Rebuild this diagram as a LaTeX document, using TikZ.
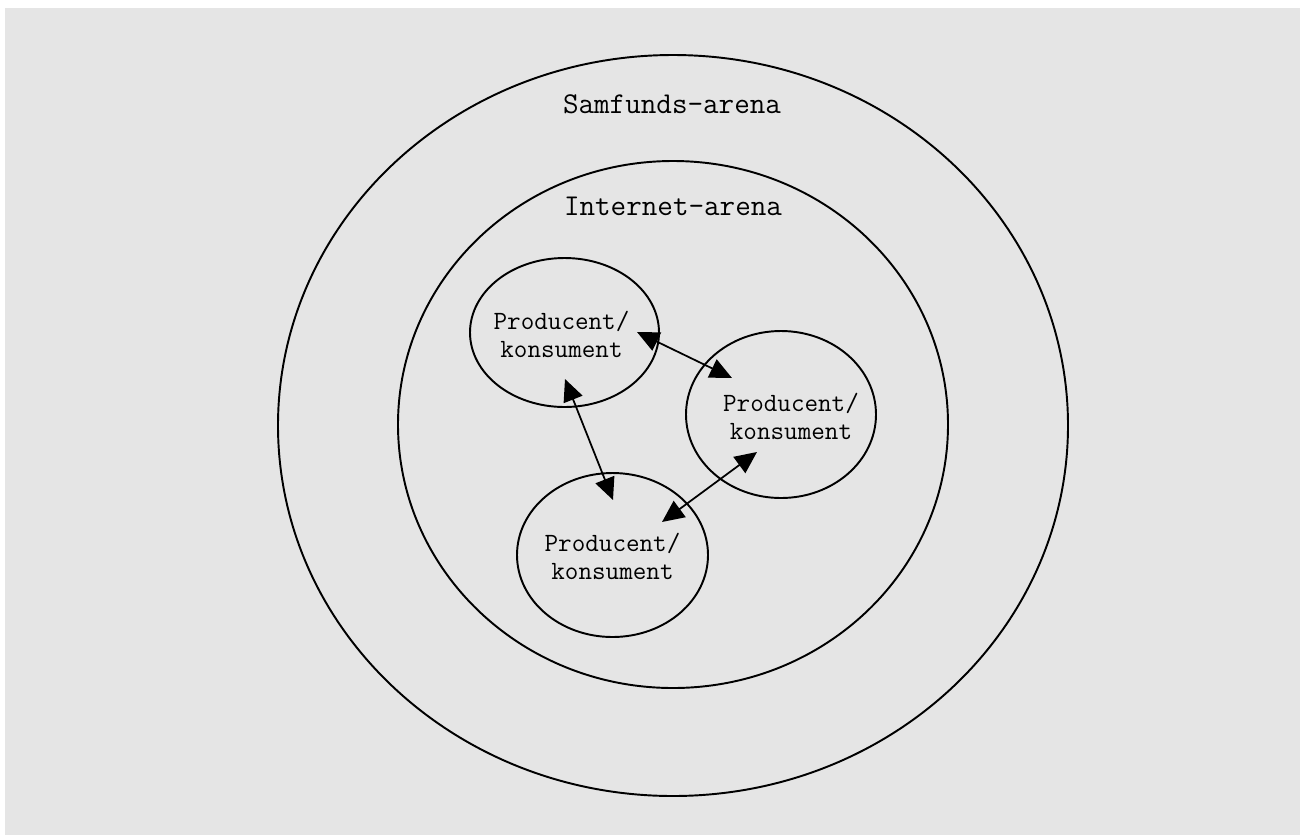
\documentclass[tikz,border=0pt]{standalone}
\usepackage{fontspec}
\usetikzlibrary{positioning,calc,shapes.geometric,arrows.meta}
\definecolor{bggrey}{HTML}{E5E5E5}
\begin{document}
\begin{tikzpicture}
        \tikzset{
            arena/.style={draw, ellipse, line width=1.1pt, inner sep=0pt},
            actor/.style={draw, ellipse, line width=1.1pt, inner sep=0pt},
            arenatext/.style={anchor=base, font=\ttfamily\fontsize{17.2}{20}\selectfont},
            actortext/.style={align=center, inner sep=0pt, font=\ttfamily\fontsize{15}{15.6}\selectfont},
            link/.style={{Triangle[length=0.44cm,width=0.4cm]}-{Triangle[length=0.44cm,width=0.4cm]}, line width=1pt}
        }
        \useasboundingbox (0,0) rectangle (26,-16.7);
        \fill[bggrey] (0.1,-0.16) rectangle (26,-16.7);
        \node[arena, minimum width=15.80cm, minimum height=14.82cm] (S) at (13.46,-8.51) {};
        \node[arena, minimum width=11.00cm, minimum height=10.54cm] (I) at (13.46,-8.49) {};
        \node[arenatext] (tS) at ($(S.north)+(-0.02,-1.18)$) {Samfunds-arena};
        \node[arenatext] (tI) at ($(I.north)+(0,-1.1)$) {Internet-arena};
        \node[actor, minimum width=3.78cm, minimum height=2.98cm] (A) at (11.29,-6.65) {};
        \node[actor, minimum width=3.80cm, minimum height=3.34cm] (B) at (15.62,-8.29) {};
        \node[actor, minimum width=3.82cm, minimum height=3.28cm] (C) at (12.25,-11.10) {};
        \node[actortext] (tA) at ($(A)+(-0.06,-0.04)$) {Producent/\\konsument};
        \node[actortext] (tB) at ($(B)+(0.2,-0.04)$) {Producent/\\konsument};
        \node[actortext] (tC) at ($(C)+(0,-0.03)$) {Producent/\\konsument};
        % arrow ends
        \coordinate (AB1) at (12.74,-6.64);
        \coordinate (AB2) at (14.64,-7.56);
        \coordinate (AC1) at (11.30,-7.58);
        \coordinate (AC2) at (12.26,-10.00);
        \coordinate (BC1) at (15.14,-9.04);
        \coordinate (BC2) at (13.24,-10.44);
        \draw[link] (AB1) -- (AB2);
        \draw[link] (AC1) -- (AC2);
        \draw[link] (BC1) -- (BC2);
    \end{tikzpicture}
\end{document}
